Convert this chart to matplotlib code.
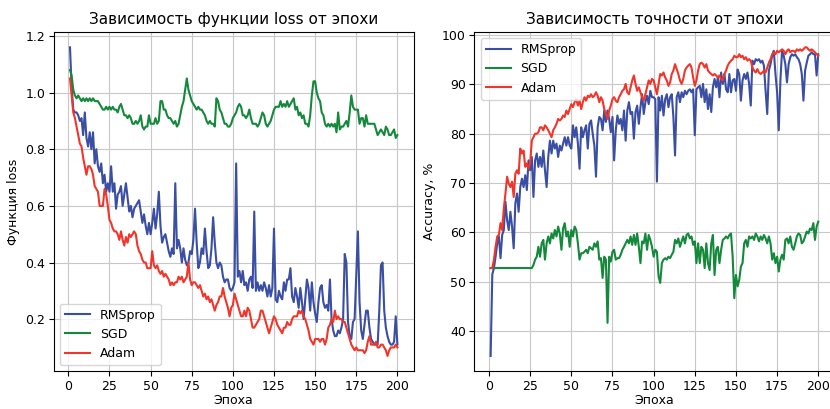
import numpy as np
import matplotlib
matplotlib.use("Agg")
import matplotlib.pyplot as plt

epochs = np.arange(1, 201)

# loss per epoch
loss_rmsprop = [
    1.16, 1.02, 0.94, 0.93, 0.93, 0.92, 0.90, 0.91, 0.85, 0.93,
    0.84, 0.81, 0.86, 0.80, 0.86, 0.75, 0.80, 0.74, 0.72, 0.75,
    0.68, 0.71, 0.65, 0.68, 0.65, 0.74, 0.65, 0.68, 0.59, 0.64,
    0.65, 0.67, 0.60, 0.64, 0.68, 0.63, 0.58, 0.60, 0.56, 0.59,
    0.60, 0.61, 0.62, 0.58, 0.54, 0.57, 0.53, 0.50, 0.54, 0.50,
    0.54, 0.59, 0.52, 0.57, 0.65, 0.53, 0.47, 0.49, 0.50, 0.47,
    0.44, 0.42, 0.45, 0.43, 0.68, 0.45, 0.48, 0.45, 0.40, 0.45,
    0.41, 0.39, 0.40, 0.44, 0.43, 0.48, 0.59, 0.47, 0.38, 0.40,
    0.45, 0.43, 0.52, 0.44, 0.38, 0.39, 0.45, 0.56, 0.47, 0.40,
    0.38, 0.40, 0.39, 0.35, 0.33, 0.34, 0.34, 0.31, 0.30, 0.31,
    0.33, 0.75, 0.35, 0.37, 0.33, 0.37, 0.32, 0.33, 0.30, 0.34,
    0.35, 0.31, 0.58, 0.30, 0.33, 0.30, 0.32, 0.30, 0.33, 0.31,
    0.28, 0.32, 0.28, 0.31, 0.52, 0.27, 0.26, 0.30, 0.28, 0.27,
    0.33, 0.30, 0.34, 0.34, 0.38, 0.28, 0.26, 0.31, 0.28, 0.24,
    0.31, 0.26, 0.20, 0.27, 0.34, 0.31, 0.23, 0.33, 0.26, 0.22,
    0.19, 0.26, 0.31, 0.32, 0.26, 0.24, 0.25, 0.23, 0.34, 0.20,
    0.16, 0.14, 0.14, 0.16, 0.15, 0.17, 0.20, 0.43, 0.40, 0.19,
    0.14, 0.13, 0.19, 0.20, 0.35, 0.51, 0.26, 0.16, 0.13, 0.18,
    0.23, 0.23, 0.17, 0.13, 0.12, 0.11, 0.11, 0.11, 0.23, 0.39,
    0.40, 0.23, 0.17, 0.14, 0.12, 0.11, 0.11, 0.12, 0.21, 0.11,
]
loss_sgd = [
    1.08, 1.06, 1.01, 0.99, 0.98, 0.99, 0.98, 0.97, 0.98, 0.97,
    0.98, 0.97, 0.98, 0.97, 0.98, 0.97, 0.97, 0.97, 0.96, 0.95,
    0.94, 0.94, 0.95, 0.94, 0.95, 0.94, 0.95, 0.94, 0.94, 0.93,
    0.95, 0.96, 0.94, 0.92, 0.92, 0.91, 0.92, 0.91, 0.89, 0.89,
    0.90, 0.89, 0.90, 0.92, 0.88, 0.87, 0.88, 0.88, 0.92, 0.89,
    0.89, 0.89, 0.91, 0.89, 0.90, 0.97, 0.97, 0.94, 0.94, 0.92,
    0.91, 0.91, 0.90, 0.89, 0.90, 0.88, 0.89, 0.92, 0.95, 0.97,
    1.01, 1.05, 1.01, 0.99, 0.97, 0.96, 0.95, 0.94, 0.95, 0.94,
    0.94, 0.93, 0.92, 0.90, 0.89, 0.90, 0.89, 0.89, 0.88, 0.98,
    0.97, 0.94, 0.93, 0.91, 0.89, 0.89, 0.88, 0.88, 0.89, 0.91,
    0.92, 0.93, 0.95, 0.96, 0.95, 0.92, 0.92, 0.91, 0.92, 0.94,
    0.91, 0.89, 0.89, 0.89, 0.88, 0.89, 0.91, 0.93, 0.92, 0.89,
    0.88, 0.89, 0.90, 0.92, 0.94, 0.95, 0.95, 0.95, 0.97, 0.95,
    0.96, 0.95, 0.97, 0.95, 0.96, 0.97, 0.98, 0.94, 0.95, 0.92,
    0.93, 0.91, 0.92, 0.89, 0.89, 0.88, 0.92, 0.99, 1.04, 1.04,
    1.00, 0.98, 0.97, 0.93, 0.92, 0.89, 0.88, 0.89, 0.88, 0.89,
    0.88, 0.89, 0.86, 0.93, 0.87, 0.88, 0.88, 0.89, 0.90, 0.88,
    0.93, 0.99, 0.95, 0.94, 0.94, 0.94, 0.89, 0.91, 0.91, 0.88,
    0.92, 0.89, 0.89, 0.89, 0.89, 0.89, 0.87, 0.85, 0.86, 0.87,
    0.86, 0.85, 0.88, 0.87, 0.85, 0.85, 0.86, 0.87, 0.84, 0.85,
]
loss_adam = [
    1.05, 0.99, 0.93, 0.91, 0.88, 0.85, 0.82, 0.81, 0.77, 0.74,
    0.71, 0.74, 0.74, 0.73, 0.71, 0.67, 0.66, 0.65, 0.60, 0.60,
    0.60, 0.66, 0.64, 0.60, 0.55, 0.54, 0.52, 0.51, 0.51, 0.50,
    0.48, 0.51, 0.48, 0.46, 0.49, 0.47, 0.50, 0.49, 0.50, 0.51,
    0.50, 0.46, 0.44, 0.43, 0.41, 0.40, 0.40, 0.38, 0.38, 0.38,
    0.44, 0.39, 0.38, 0.39, 0.37, 0.36, 0.37, 0.35, 0.36, 0.35,
    0.34, 0.32, 0.33, 0.32, 0.33, 0.33, 0.35, 0.34, 0.35, 0.33,
    0.34, 0.35, 0.40, 0.34, 0.32, 0.33, 0.33, 0.32, 0.31, 0.32,
    0.30, 0.28, 0.29, 0.27, 0.28, 0.26, 0.27, 0.25, 0.23, 0.25,
    0.26, 0.28, 0.28, 0.31, 0.28, 0.26, 0.24, 0.21, 0.24, 0.25,
    0.29, 0.27, 0.25, 0.23, 0.21, 0.21, 0.23, 0.21, 0.24, 0.23,
    0.20, 0.17, 0.17, 0.18, 0.19, 0.20, 0.23, 0.23, 0.21, 0.19,
    0.17, 0.15, 0.17, 0.19, 0.21, 0.20, 0.18, 0.17, 0.16, 0.15,
    0.17, 0.17, 0.19, 0.18, 0.18, 0.20, 0.21, 0.21, 0.21, 0.23,
    0.22, 0.23, 0.21, 0.20, 0.18, 0.16, 0.13, 0.12, 0.11, 0.13,
    0.13, 0.13, 0.12, 0.13, 0.13, 0.11, 0.13, 0.17, 0.18, 0.20,
    0.19, 0.23, 0.20, 0.21, 0.20, 0.20, 0.19, 0.19, 0.17, 0.15,
    0.13, 0.11, 0.10, 0.09, 0.10, 0.09, 0.09, 0.09, 0.09, 0.08,
    0.09, 0.12, 0.14, 0.11, 0.11, 0.11, 0.12, 0.10, 0.10, 0.11,
    0.11, 0.10, 0.09, 0.07, 0.09, 0.10, 0.10, 0.10, 0.11, 0.10,
]

# accuracy per epoch, %
acc_rmsprop = [
    35.0, 51.5, 52.8, 55.1, 57.8, 59.2, 54.8, 59.5, 60.5, 66.2,
    62.5, 60.5, 64.2, 61.2, 56.8, 65.9, 67.9, 64.2, 69.2, 70.9,
    69.2, 71.6, 68.6, 74.6, 72.6, 75.3, 67.2, 74.6, 76.0, 73.3,
    75.3, 73.3, 76.6, 72.6, 69.2, 75.3, 78.6, 76.0, 78.6, 77.0,
    78.0, 75.3, 77.6, 76.6, 78.0, 79.3, 77.6, 79.3, 77.6, 77.0,
    81.7, 79.3, 81.3, 78.0, 72.9, 81.3, 79.3, 80.7, 81.7, 77.0,
    82.0, 82.7, 80.0, 77.6, 71.3, 81.3, 83.4, 83.0, 80.7, 84.7,
    82.4, 84.7, 83.0, 80.3, 83.4, 74.6, 80.7, 83.7, 82.0, 83.0,
    80.7, 84.7, 78.6, 84.7, 86.4, 84.0, 84.4, 79.0, 84.4, 85.7,
    82.0, 85.4, 88.0, 84.0, 86.4, 87.7, 86.0, 88.7, 87.4, 87.4,
    87.0, 70.3, 87.4, 84.7, 87.7, 83.7, 87.0, 88.0, 85.4, 87.4,
    88.0, 83.4, 75.6, 87.4, 88.4, 86.4, 88.4, 87.4, 88.7, 88.0,
    88.7, 89.0, 88.4, 89.0, 79.7, 89.0, 89.4, 89.7, 87.4, 90.1,
    86.4, 89.0, 85.0, 88.0, 84.4, 89.4, 91.1, 89.4, 91.4, 87.4,
    92.4, 90.1, 92.1, 89.0, 88.4, 92.1, 88.4, 90.8, 91.1, 88.7,
    93.0, 92.1, 86.7, 90.8, 92.1, 91.1, 92.4, 90.1, 85.7, 94.8,
    94.1, 95.1, 94.8, 95.1, 94.4, 94.8, 93.8, 88.7, 84.0, 92.8,
    94.1, 95.8, 96.8, 92.1, 88.4, 80.7, 90.8, 96.8, 95.8, 94.1,
    90.4, 94.1, 95.5, 96.1, 95.8, 96.1, 95.5, 95.1, 94.1, 92.1,
    86.7, 92.8, 94.4, 95.8, 96.1, 96.5, 96.1, 96.1, 91.8, 96.1,
]
acc_sgd = [
    52.8, 52.8, 52.8, 52.8, 52.8, 52.8, 52.8, 52.8, 52.8, 52.8,
    52.8, 52.8, 52.8, 52.8, 52.8, 52.8, 52.8, 52.8, 52.8, 52.8,
    52.8, 52.8, 52.8, 52.8, 52.8, 52.8, 53.4, 54.5, 55.1, 57.1,
    55.1, 57.8, 58.5, 54.5, 57.8, 59.2, 57.8, 59.8, 58.8, 60.5,
    59.2, 61.2, 59.8, 56.5, 60.8, 61.9, 59.2, 60.2, 57.1, 60.5,
    59.2, 61.2, 60.5, 57.8, 54.5, 55.8, 55.8, 56.1, 56.5, 55.8,
    57.1, 56.8, 56.5, 57.8, 57.1, 58.2, 54.5, 54.8, 50.8, 55.1,
    54.5, 41.7, 55.1, 54.1, 56.1, 56.5, 54.5, 54.8, 54.8, 55.5,
    56.5, 57.1, 57.8, 58.5, 57.8, 59.2, 57.5, 59.5, 57.5, 59.8,
    57.1, 53.8, 58.2, 57.8, 59.8, 56.5, 59.5, 58.5, 57.1, 55.1,
    56.5, 56.1, 51.1, 49.8, 53.8, 54.5, 54.8, 54.5, 55.1, 54.8,
    55.5, 56.1, 58.5, 57.8, 58.8, 57.1, 58.2, 59.2, 57.8, 59.5,
    59.8, 58.8, 59.2, 57.5, 58.2, 53.8, 57.8, 53.8, 57.1, 56.5,
    52.8, 57.8, 53.8, 52.4, 57.8, 59.5, 51.4, 56.5, 57.1, 53.8,
    56.5, 58.5, 58.8, 59.2, 58.8, 59.5, 59.8, 55.1, 46.7, 51.4,
    49.1, 50.4, 53.1, 53.8, 57.8, 58.5, 57.1, 59.2, 58.8, 59.2,
    58.5, 59.8, 59.2, 58.2, 59.2, 58.5, 59.5, 58.8, 57.8, 59.2,
    57.8, 54.5, 55.8, 53.8, 55.1, 52.1, 54.5, 55.5, 54.5, 58.5,
    58.8, 57.8, 59.2, 57.1, 56.5, 57.8, 59.2, 59.8, 59.5, 57.8,
    58.2, 59.2, 60.2, 59.8, 60.8, 60.5, 61.9, 58.5, 61.2, 62.2,
]
acc_adam = [
    52.8, 52.8, 54.5, 57.1, 59.2, 59.5, 61.9, 60.5, 64.9, 67.9,
    71.3, 69.9, 69.2, 70.3, 67.2, 71.9, 72.6, 71.9, 77.0, 76.0,
    76.6, 73.3, 74.0, 72.9, 74.0, 78.6, 79.3, 80.0, 80.0, 80.3,
    81.3, 81.3, 80.7, 81.7, 81.3, 80.7, 80.0, 79.3, 80.7, 81.3,
    82.0, 83.0, 82.7, 83.0, 83.7, 83.4, 84.7, 84.0, 85.0, 86.0,
    85.4, 86.4, 87.0, 85.7, 86.7, 85.0, 86.4, 87.4, 86.7, 87.7,
    87.4, 88.0, 87.4, 87.7, 88.4, 87.7, 86.4, 87.4, 86.7, 85.0,
    84.0, 83.0, 84.7, 85.7, 87.0, 87.4, 86.7, 86.4, 87.4, 88.0,
    88.7, 89.0, 90.1, 88.4, 88.0, 89.4, 90.8, 91.8, 90.1, 88.7,
    89.4, 88.4, 87.4, 86.7, 88.0, 89.4, 90.8, 90.1, 91.1, 90.8,
    89.4, 88.0, 90.1, 92.1, 91.8, 92.4, 91.4, 90.8, 89.7, 90.4,
    92.1, 92.8, 94.1, 93.1, 92.1, 90.8, 90.1, 91.1, 92.8, 93.4,
    93.8, 94.1, 93.4, 91.4, 89.7, 90.8, 92.8, 94.1, 94.4, 94.1,
    93.4, 94.1, 92.8, 92.4, 92.1, 91.8, 92.1, 91.8, 91.4, 91.8,
    91.1, 90.8, 92.1, 92.8, 93.8, 94.4, 94.8, 95.1, 95.8, 95.5,
    95.5, 96.1, 95.5, 95.8, 95.1, 95.5, 94.8, 95.1, 94.8, 93.4,
    92.8, 92.4, 93.1, 92.4, 92.1, 92.4, 92.8, 92.4, 93.4, 94.4,
    95.1, 96.1, 96.5, 96.1, 96.8, 96.5, 96.8, 97.1, 96.8, 96.1,
    96.8, 97.1, 96.5, 96.8, 96.8, 96.5, 97.1, 96.8, 97.1, 96.8,
    97.1, 97.5, 97.5, 97.1, 96.8, 97.1, 96.8, 96.5, 96.1, 95.8,
]

names = ["RMSprop", "SGD", "Adam"]
colors = ["#3a4ea3", "#14893b", "#f2352a"]

fig = plt.figure(figsize=(8.3, 4.09), dpi=100)
ax1 = fig.add_axes([0.0646, 0.0920, 0.4339, 0.8300])
ax2 = fig.add_axes([0.5714, 0.0920, 0.4342, 0.8300])

# left: loss
for y, n, c in zip([loss_rmsprop, loss_sgd, loss_adam], names, colors):
    ax1.plot(epochs, y, color=c, lw=1.5, label=n)
ax1.set_title("Зависимость функции loss от эпохи", fontsize=11)
ax1.set_xlabel("Эпоха", fontsize=9, labelpad=1)
ax1.set_ylabel("Функция loss", fontsize=9)
ax1.grid(True, color="#c8c8c8")
ax1.legend(loc="lower left", fontsize=9)

# right: accuracy
for y, n, c in zip([acc_rmsprop, acc_sgd, acc_adam], names, colors):
    ax2.plot(epochs, y, color=c, lw=1.5, label=n)
ax2.set_title("Зависимость точности от эпохи", fontsize=11)
ax2.set_xlabel("Эпоха", fontsize=9, labelpad=1)
ax2.set_ylabel("Accuracy, %", fontsize=9)
ax2.grid(True, color="#c8c8c8")
ax2.legend(loc="upper left", fontsize=9)

for ax in (ax1, ax2):
    ax.tick_params(labelsize=9, pad=2.5)
    ax.set_xticks([0, 25, 50, 75, 100, 125, 150, 175, 200])

fig.savefig("out.png", dpi=100)
